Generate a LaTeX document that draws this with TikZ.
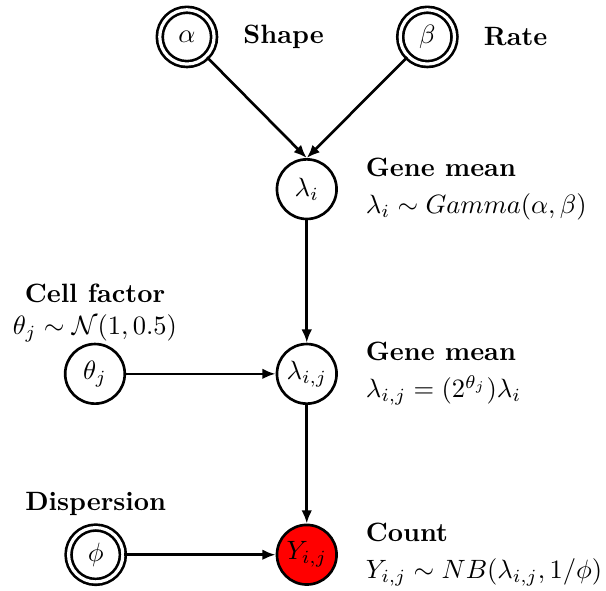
\documentclass[tikz,border=0pt]{standalone}
\usepackage{amsmath}
\usepackage{xcolor}
\usepackage{tikz}
\usetikzlibrary{shapes.geometric, arrows, arrows.meta, positioning}
\tikzstyle{latent} = [circle, draw=black, fill=white, line width=1pt, minimum size=22.5pt, inner sep=1pt]
\tikzstyle{param} = [latent, double, double distance=1.2pt, minimum size=20.5pt]
\tikzstyle{obs} = [latent, fill=red]
\tikzstyle{note} = [align=left, inner sep=1pt]
\tikzstyle{arrow} = [->, >={Latex[length=5pt, width=4pt]}, line width=1pt]

\begin{document}
\begin{tikzpicture}
        \useasboundingbox (0,0) rectangle (8.04,-7.83);

        \node [latent] (lambdai) at (4.07,-2.51) {$\lambda_i$};
        \node [param, on grid, above left=2.02cm and 1.59cm of lambdai] (alpha) {$\alpha$};
        \node [param, on grid, above right=2.02cm and 1.60cm of lambdai] (beta) {$\beta$};
        \node [latent, on grid, below=2.45cm of lambdai] (lambdaij) {$\lambda_{i,j}$};
        \node [latent, on grid, left=2.81cm of lambdaij] (theta) {$\theta_j$};
        \node [obs, on grid, below=2.40cm of lambdaij] (y) {$Y_{i,j}$};
        \node [param, on grid, left=2.80cm of y] (phi) {$\phi$};

        \node [note, right=0.33cm of alpha] (shape) {\textbf{Shape}};
        \node [note, right=0.33cm of beta] (rate) {\textbf{Rate}};
        \node [note, right=0.33cm of lambdai] (meanA) {\textbf{Gene mean}\\[2pt] $\lambda_i \sim Gamma(\alpha, \beta)$};
        \node [note, align=center, above=-0.03cm of theta] (cellf) {\textbf{Cell factor}\\ $\theta_j \sim \mathcal{N}(1, 0.5)$};
        \node [note, right=0.33cm of lambdaij] (meanB) {\textbf{Gene mean}\\[2pt] $\lambda_{i,j} = (2^{\theta_j})\lambda_i$};
        \node [note, above=0.1cm of phi] (disp) {\textbf{Dispersion}};
        \node [note, right=0.33cm of y] (count) {\textbf{Count}\\[2pt] $Y_{i,j} \sim NB(\lambda_{i,j}, 1/\phi)$};

        \draw [arrow] (alpha) -- (lambdai.north);
        \draw [arrow] (beta) -- (lambdai.north);
        \draw [arrow] (lambdai) -- (lambdaij);
        \draw [arrow] (theta) -- (lambdaij);
        \draw [arrow] (lambdaij) -- (y);
        \draw [arrow] (phi) -- (y);
    \end{tikzpicture}
\end{document}
